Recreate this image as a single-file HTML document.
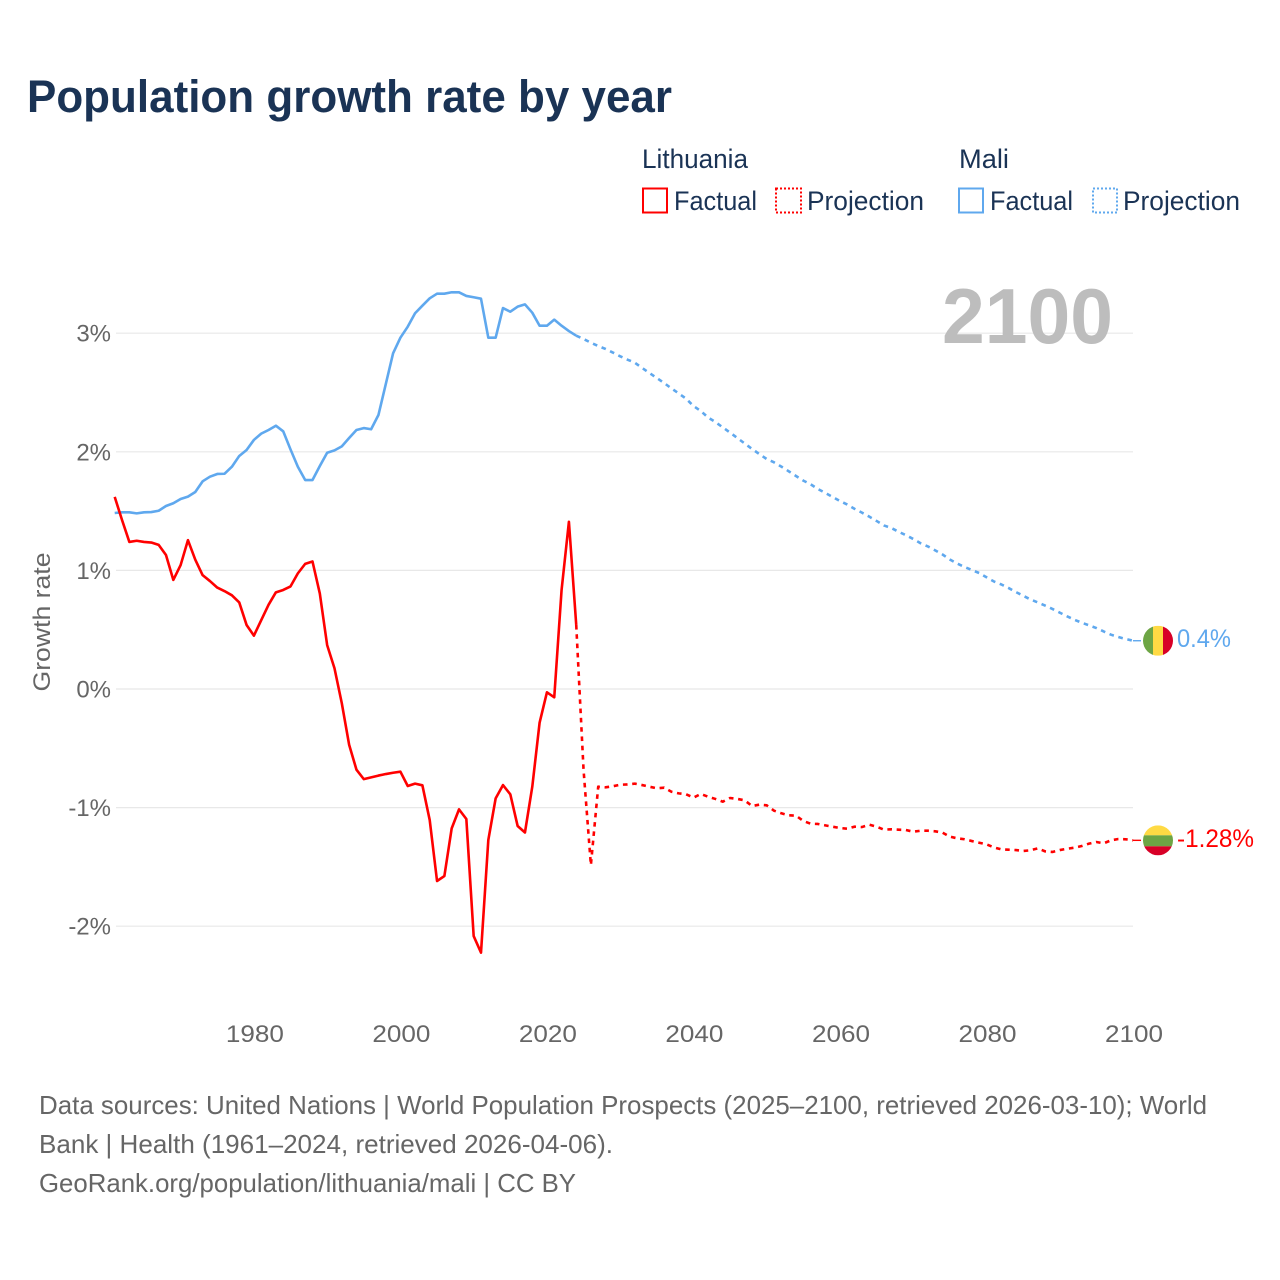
<!DOCTYPE html>
<html lang="en">
<head>
<meta charset="utf-8">
<title>Population growth rate by year</title>
<style>
  html, body { margin: 0; padding: 0; background: #ffffff; }
  svg { display: block; font-family: "Liberation Sans", sans-serif; }
</style>
</head>
<body>
<svg id="chart" xmlns="http://www.w3.org/2000/svg" width="1280" height="1280" viewBox="0 0 1280 1280">
  <defs>
    <clipPath id="flag-clip"><circle cx="0" cy="0" r="15"></circle></clipPath>
  </defs>
  <rect x="0" y="0" width="1280" height="1280" fill="#ffffff"></rect>

  <text x="27" y="112" font-size="45" font-weight="700" fill="#1a3355" textLength="645" lengthAdjust="spacingAndGlyphs">Population growth rate by year</text>

  <g font-size="26.5" fill="#1a3355">
    <text x="642" y="168" textLength="106" lengthAdjust="spacingAndGlyphs">Lithuania</text>
    <text x="959" y="168" textLength="50" lengthAdjust="spacingAndGlyphs">Mali</text>
    <rect x="643" y="188.5" width="24" height="24" fill="none" stroke="#ff0000" stroke-width="2"></rect>
    <text x="674" y="210" textLength="83" lengthAdjust="spacingAndGlyphs">Factual</text>
    <rect x="776" y="188.5" width="25" height="24" fill="none" stroke="#ff0000" stroke-width="2" stroke-dasharray="2 2"></rect>
    <text x="807" y="210" textLength="117" lengthAdjust="spacingAndGlyphs">Projection</text>
    <rect x="959" y="188.5" width="24" height="24" fill="none" stroke="#5fa8ee" stroke-width="2"></rect>
    <text x="990" y="210" textLength="83" lengthAdjust="spacingAndGlyphs">Factual</text>
    <rect x="1093" y="188.5" width="24" height="24" fill="none" stroke="#5fa8ee" stroke-width="2" stroke-dasharray="2 2"></rect>
    <text x="1123" y="210" textLength="117" lengthAdjust="spacingAndGlyphs">Projection</text>
  </g>

  <g id="grid"></g>
  <g id="y-axis"></g>
  <g id="x-axis"></g>

  <text transform="translate(50,622) rotate(-90)" text-anchor="middle" font-size="24" fill="#666666" textLength="139" lengthAdjust="spacingAndGlyphs">Growth rate</text>

  <text x="942" y="343" font-size="78" font-weight="700" fill="#bdbdbd" textLength="171" lengthAdjust="spacingAndGlyphs">2100</text>

  <g id="series"></g>

  <g id="flag-mali" clip-path="url(#flag-clip)">
    <rect x="-15" y="-15" width="10" height="30" fill="#6da544"></rect>
    <rect x="-5" y="-15" width="10" height="30" fill="#ffda44"></rect>
    <rect x="5" y="-15" width="10" height="30" fill="#d80027"></rect>
  </g>
  <g id="flag-lithuania" clip-path="url(#flag-clip)">
    <rect x="-15" y="-15" width="30" height="10" fill="#ffda44"></rect>
    <rect x="-15" y="-5" width="30" height="11" fill="#6da544"></rect>
    <rect x="-15" y="6" width="30" height="9" fill="#d80027"></rect>
  </g>
  <text id="label-mali" x="1177" font-size="25" fill="#5fa8ee" textLength="54" lengthAdjust="spacingAndGlyphs"></text>
  <text id="label-lithuania" x="1177" font-size="25" fill="#ff0000" textLength="77" lengthAdjust="spacingAndGlyphs"></text>

  <g font-size="26" fill="#666666">
    <text x="39" y="1114" textLength="1168" lengthAdjust="spacingAndGlyphs">Data sources: United Nations | World Population Prospects (2025–2100, retrieved 2026-03-10); World</text>
    <text x="39" y="1153" textLength="574" lengthAdjust="spacingAndGlyphs">Bank | Health (1961–2024, retrieved 2026-04-06).</text>
    <a><text x="39" y="1192" textLength="537" lengthAdjust="spacingAndGlyphs">GeoRank.org/population/lithuania/mali | CC BY</text></a>
  </g>
</svg>

<script>
const factualStartYear = 1961;
const projectionStartYear = 2024;
const xTickYears = [1980, 2000, 2020, 2040, 2060, 2080, 2100];
const yTickValues = [3, 2, 1, 0, -1, -2];
const lithuaniaFactual = [
  1.62, 1.425, 1.24, 1.25, 1.24, 1.235, 1.215, 1.13, 0.92, 1.045,
  1.255, 1.09, 0.96, 0.91, 0.855, 0.825, 0.79, 0.73, 0.54, 0.45,
  0.58, 0.71, 0.815, 0.835, 0.865, 0.975, 1.055, 1.075, 0.805, 0.37,
  0.175, -0.12, -0.47, -0.68, -0.76, -0.745, -0.73, -0.717, -0.706, -0.697,
  -0.818, -0.798, -0.812, -1.105, -1.619, -1.577, -1.175, -1.015, -1.096, -2.083,
  -2.223, -1.273, -0.922, -0.81, -0.888, -1.155, -1.21, -0.824, -0.284, -0.028,
  -0.07, 0.835, 1.41, 0.54
];
const lithuaniaProjection = [
  0.54, -0.683, -1.484, -0.824, -0.829, -0.82, -0.807, -0.805, -0.798, -0.81,
  -0.824, -0.837, -0.832, -0.866, -0.88, -0.888, -0.916, -0.885, -0.908, -0.927,
  -0.95, -0.919, -0.927, -0.939, -0.987, -0.975, -0.981, -1.026, -1.048, -1.065,
  -1.068, -1.113, -1.136, -1.138, -1.15, -1.161, -1.172, -1.178, -1.161, -1.164,
  -1.144, -1.161, -1.186, -1.183, -1.186, -1.189, -1.203, -1.195, -1.195, -1.2,
  -1.211, -1.245, -1.259, -1.267, -1.282, -1.296, -1.31, -1.335, -1.352, -1.355,
  -1.358, -1.366, -1.36, -1.344, -1.369, -1.374, -1.358, -1.347, -1.338, -1.324,
  -1.304, -1.29, -1.301, -1.276, -1.265, -1.267, -1.276
];
const maliFactual = [
  1.484, 1.49, 1.49, 1.481, 1.49, 1.492, 1.503, 1.543, 1.566, 1.602,
  1.622, 1.661, 1.751, 1.79, 1.813, 1.815, 1.874, 1.965, 2.015, 2.1,
  2.153, 2.184, 2.22, 2.173, 2.02, 1.874, 1.762, 1.762, 1.88, 1.992,
  2.012, 2.046, 2.116, 2.184, 2.2, 2.19, 2.31, 2.57, 2.83, 2.962,
  3.055, 3.168, 3.232, 3.294, 3.333, 3.333, 3.345, 3.345, 3.314, 3.303,
  3.291, 2.962, 2.962, 3.212, 3.181, 3.224, 3.243, 3.173, 3.063, 3.063,
  3.114, 3.063, 3.018, 2.979
];
const maliProjection = [
  2.979, 2.951, 2.92, 2.892, 2.867, 2.837, 2.805, 2.777, 2.751, 2.707,
  2.664, 2.622, 2.58, 2.534, 2.492, 2.448, 2.386, 2.344, 2.289, 2.251,
  2.206, 2.162, 2.116, 2.07, 2.024, 1.981, 1.939, 1.911, 1.875, 1.836,
  1.796, 1.757, 1.726, 1.686, 1.653, 1.619, 1.585, 1.555, 1.519, 1.487,
  1.453, 1.417, 1.379, 1.358, 1.326, 1.297, 1.265, 1.229, 1.202, 1.169,
  1.134, 1.092, 1.058, 1.029, 1.003, 0.978, 0.942, 0.907, 0.882, 0.852,
  0.818, 0.787, 0.755, 0.73, 0.703, 0.675, 0.644, 0.613, 0.584, 0.559,
  0.537, 0.514, 0.485, 0.458, 0.438, 0.422, 0.407
];
const lithuaniaEndLabel = "-1.28%";
const maliEndLabel = "0.4%";

const SVG_NS = "http://www.w3.org/2000/svg";
const RED = "#ff0000";
const BLUE = "#5fa8ee";

function xScale(year) { return 114.7 + (year - 1961) * (1133 - 114.7) / (2100 - 1961); }
function yScale(value) { return 689 - value * 118.6; }

function linePath(values, startYear) {
  return values.map(function (v, i) {
    return (i === 0 ? "M" : "L") + xScale(startYear + i).toFixed(2) + " " + yScale(v).toFixed(2);
  }).join(" ");
}

function make(tag, parent, attrs) {
  const el = document.createElementNS(SVG_NS, tag);
  Object.keys(attrs).forEach(function (k) { el.setAttribute(k, attrs[k]); });
  parent.appendChild(el);
  return el;
}

const gridGroup = document.getElementById("grid");
const yAxisGroup = document.getElementById("y-axis");
const xAxisGroup = document.getElementById("x-axis");
const seriesGroup = document.getElementById("series");

yTickValues.forEach(function (v) {
  const line = make("line", gridGroup, { x1: 116, x2: 1133, y1: yScale(v), y2: yScale(v), stroke: "#e8e8e8", "stroke-width": 1.2 });
  
  
  const label = make("text", yAxisGroup, { x: 111, y: yScale(v) + 8.5, "text-anchor": "end", "font-size": 24, fill: "#666666" });
  
  
  label.textContent = v + "%";
});

xTickYears.forEach(function (year) {
  const label = make("text", xAxisGroup, { x: xScale(year) + 1, y: 1042, "text-anchor": "middle", "font-size": 24.5, fill: "#666666", textLength: 58, lengthAdjust: "spacingAndGlyphs" });
  
  
  label.textContent = year;
});

function drawLine(values, startYear, color, dashed) {
  const attrs = { d: linePath(values, startYear), fill: "none", stroke: color, "stroke-width": 2.6, "stroke-linejoin": "round" };
  if (dashed) { attrs["stroke-dasharray"] = "4.6 4.7"; }
  return make("path", seriesGroup, attrs);
}

const maliFactualLine = drawLine(maliFactual, factualStartYear, BLUE, false);


const maliProjectionLine = drawLine(maliProjection, projectionStartYear, BLUE, true);


const lithuaniaFactualLine = drawLine(lithuaniaFactual, factualStartYear, RED, false);


const lithuaniaProjectionLine = drawLine(lithuaniaProjection, projectionStartYear, RED, true);



function placeEnd(values, color, flagId, labelId, text) {
  const last = values[values.length - 1];
  const yEnd = yScale(last);
  const connector = make("line", seriesGroup, { x1: xScale(2100), x2: xScale(2100) + 8, y1: yEnd, y2: yEnd, stroke: color, "stroke-width": 1.4 });
  document.getElementById(flagId).setAttribute("transform", "translate(1158," + yEnd.toFixed(2) + ")");
  const label = document.getElementById(labelId);
  label.setAttribute("y", (yEnd + 6.5).toFixed(2));
  label.textContent = text;
  return connector;
}

const maliConnector = placeEnd(maliProjection, BLUE, "flag-mali", "label-mali", maliEndLabel);


const lithuaniaConnector = placeEnd(lithuaniaProjection, RED, "flag-lithuania", "label-lithuania", lithuaniaEndLabel);


</script>
</body>
</html>
